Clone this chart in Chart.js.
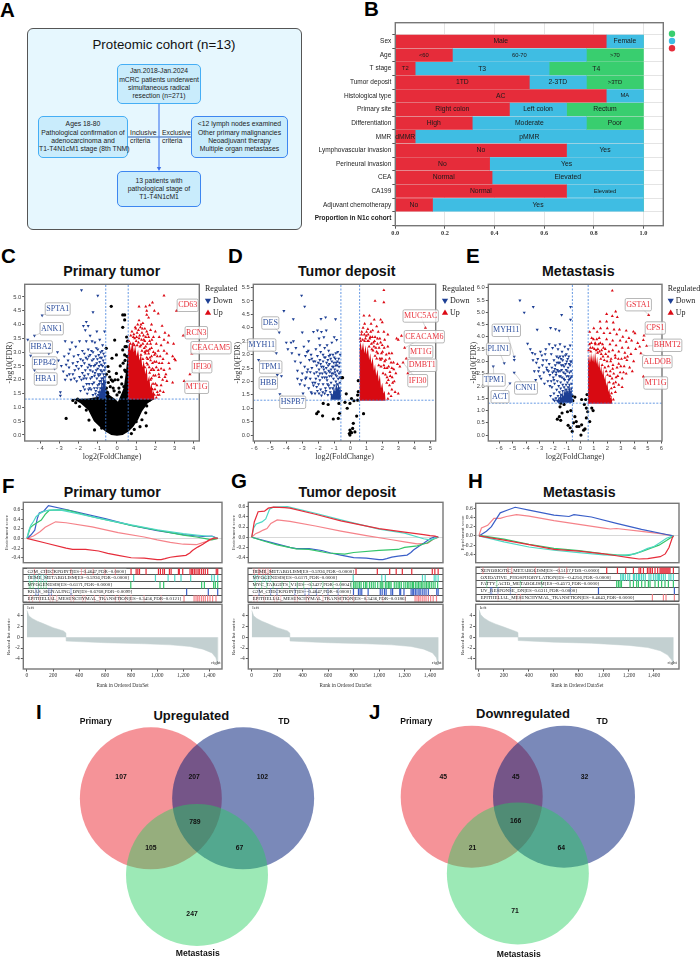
<!DOCTYPE html>
<html>
<head>
<meta charset="utf-8">
<title>Proteomic cohort figure</title>
<script src="https://cdn.jsdelivr.net/npm/chart.js@4"></script>
<style>
  html, body { margin: 0; padding: 0; background: #fff; }
  body { position: relative; width: 700px; height: 958px; overflow: hidden; font-family: "Liberation Sans", Arial, sans-serif; color: #111; }
  .letter { position: absolute; font-size: 20.5px; font-weight: bold; line-height: 1; color: #000; }
  .cohort { position: absolute; left: 27px; top: 28px; width: 273px; height: 200px; background: #e6f7fe; border: 1px solid #555; border-radius: 6px; }
  .step { position: absolute; box-sizing: border-box; background: #c9ecfc; border: 1.2px solid #45aef5; border-radius: 5px; font-size: 6.8px; line-height: 8.3px; text-align: center; white-space: nowrap; display: flex; flex-direction: column; justify-content: center; color: #222; }
  .step.deep { border-color: #3d86f0; }
  .crit { position: absolute; font-size: 6.8px; line-height: 8.2px; color: #222; }
  .heading { position: absolute; transform: translate(-50%, -50%); white-space: nowrap; font-weight: bold; color: #111; }
  canvas { position: absolute; }
</style>
</head>
<body>
<div class="letter" style="left:0;top:0">A</div>
<div class="letter" style="left:364px;top:-1px">B</div>
<div class="letter" style="left:1px;top:246px">C</div>
<div class="letter" style="left:228px;top:246px">D</div>
<div class="letter" style="left:466px;top:246px">E</div>
<div class="letter" style="left:2px;top:476px">F</div>
<div class="letter" style="left:231px;top:471px">G</div>
<div class="letter" style="left:468px;top:471px">H</div>
<div class="letter" style="left:36px;top:702px">I</div>
<div class="letter" style="left:369px;top:702px">J</div>

<div class="cohort"></div>
<div class="heading" style="left:164px;top:44px;font-size:13.3px;font-weight:normal">Proteomic cohort (n=13)</div>
<svg style="position:absolute;left:0;top:0" width="340" height="240">
  <line x1="128" y1="137" x2="191" y2="137" stroke="#2f62b5" stroke-width="1"/>
  <line x1="159" y1="104" x2="159" y2="168" stroke="#4d80f0" stroke-width="1.2"/>
  <path d="M156.8 167 L161.2 167 L159 171 Z" fill="#3d70e8"/>
</svg>
<div class="step" style="left:117px;top:64px;width:84px;height:40px">Jan.2018-Jan.2024<br>mCRC patients underwent<br>simultaneous radical<br>resection (n=271)</div>
<div class="step" style="left:38px;top:116px;width:90px;height:42px">Ages 18-80<br>Pathological confirmation of<br>adenocarcinoma and<br>T1-T4N1cM1 stage (8th TNM)</div>
<div class="step deep" style="left:191px;top:116px;width:97px;height:42px">&lt;12 lymph nodes examined<br>Other primary malignancies<br>Neoadjuvant therapy<br>Multiple organ metastases</div>
<div class="step deep" style="left:117px;top:171px;width:84px;height:36px">13 patients with<br>pathological stage of<br>T1-T4N1cM1</div>
<div class="crit" style="left:130px;top:129px">Inclusive<br>criteria</div>
<div class="crit" style="left:162px;top:129px">Exclusive<br>criteria</div>

<div class="heading" style="left:111.7px;top:271px;font-size:14.2px">Primary tumor</div>
<div class="heading" style="left:346.7px;top:271px;font-size:14.2px">Tumor deposit</div>
<div class="heading" style="left:578.3px;top:270.7px;font-size:14.2px">Metastasis</div>
<div class="heading" style="left:112.3px;top:491.7px;font-size:14.2px">Primary tumor</div>
<div class="heading" style="left:347.3px;top:491.7px;font-size:14.2px">Tumor deposit</div>
<div class="heading" style="left:579.3px;top:491.7px;font-size:14.2px">Metastasis</div>
<div class="heading" style="left:191.3px;top:715.3px;font-size:13px">Upregulated</div>
<div class="heading" style="left:523px;top:712.7px;font-size:13px">Downregulated</div>

<script>
// ---- clinical proportions ----
const clinicalRows = ['Sex', 'Age', 'T stage', 'Tumor deposit', 'Histological type', 'Primary site', 'Differentiation', 'MMR',
  'Lymphovascular invasion', 'Perineural invasion', 'CEA', 'CA199', 'Adjuvant chemotherapy', 'Proportion in N1c cohort'];
const firstShare = [0.85, 0.23, 0.08, 0.54, 0.85, 0.46, 0.31, 0.08, 0.69, 0.38, 0.39, 0.69, 0.15];
const secondShare = [0.15, 0.54, 0.54, 0.23, 0.15, 0.23, 0.46, 0.92, 0.31, 0.62, 0.61, 0.31, 0.85];
const thirdShare = [0, 0.23, 0.38, 0.23, 0, 0.31, 0.23, 0, 0, 0, 0, 0, 0];
const firstNames = ['Male', '<60', 'T2', '1TD', 'AC', 'Right colon', 'High', 'dMMR', 'No', 'No', 'Normal', 'Normal', 'No'];
const secondNames = ['Female', '60-70', 'T3', '2-3TD', 'MA', 'Left colon', 'Moderate', 'pMMR', 'Yes', 'Yes', 'Elevated', 'Elevated', 'Yes'];
const thirdNames = ['', '>70', 'T4', '>3TD', '', 'Rectum', 'Poor', '', '', '', '', '', ''];

// ---- volcano plots: flat x,y lists ----
const foldCut = 0.585;
const fdrCut = 1.3;

const primaryDown = [-3.9,4.33,-4.3,3.6,-4.65,3.45,-4.5,2.87,-4.3,2.35,-3.55,3.3,-3.5,3.15,-3.55,2.95,-3.35,2.75,-3.25,2.4,-3.1,3.0,-3.05,2.7,-2.95,1.55,-2.95,1.42,
  -2.9,2.5,-2.8,2.3,-2.75,2.85,-2.7,3.4,-2.6,2.15,-2.55,2.7,-2.5,2.45,-2.45,3.1,-2.4,2.0,-2.35,3.35,-2.3,2.6,-2.25,2.85,-2.2,2.35,-2.15,3.2,-2.1,1.95,-2.05,2.65,
  -2.0,2.4,-1.95,3.4,-1.95,2.1,-1.9,2.75,-1.9,1.6,-1.85,5.25,-1.85,2.5,-1.8,3.05,-1.8,2.25,-1.75,3.95,-1.75,1.75,-1.7,2.95,-1.7,2.6,-1.65,3.8,-1.65,2.35,-1.6,4.1,
  -1.6,3.4,-1.6,2.05,-1.55,2.75,-1.55,1.5,-1.5,3.95,-1.5,3.1,-1.5,2.2,-1.45,2.55,-1.45,1.85,-1.4,3.6,-1.4,2.9,-1.4,2.35,-1.35,1.65,-1.3,3.4,-1.3,2.7,-1.3,2.1,
  -1.25,4.45,-1.25,3.0,-1.25,1.45,-1.2,2.5,-1.2,1.9,-1.15,3.35,-1.15,2.25,-1.1,2.85,-1.1,1.6,-1.05,3.75,-1.05,2.6,-1.05,2.05,-1.05,1.4,-1.0,5.05,-1.0,3.1,-1.0,2.4,
  -1.0,1.8,-0.95,2.9,-0.95,2.15,-0.95,1.55,-0.9,3.45,-0.9,2.65,-0.9,1.95,-0.9,1.35,-0.85,3.0,-0.85,2.35,-0.85,1.7,-0.8,2.8,-0.8,2.05,-0.8,1.45,-0.75,3.25,-0.75,2.5,
  -0.75,1.85,-0.7,2.95,-0.7,2.2,-0.7,1.55,-0.68,1.35,-0.65,3.75,-0.65,2.6,-0.65,1.75,-0.62,2.1,-0.6,1.45,
  -1.42,1.7,-1.38,2.05,-1.36,2.5,-1.33,3.05,-1.28,1.85,-1.27,2.3,-1.22,2.75,-1.18,1.7,-1.17,2.15,-1.13,2.55,-1.12,1.5,-1.08,2.35,-1.08,3.15,-1.03,1.7,-1.02,2.75,-0.98,2.2,-0.97,1.45,
  -0.93,2.5,-0.92,1.85,-0.88,1.55,-0.88,2.8,-0.87,2.2,-0.83,1.95,-0.82,2.55,-0.78,1.6,-0.78,2.3,-0.77,3.05,-0.73,1.7,-0.72,2.05,-0.72,2.7,-0.68,1.95,-0.67,2.35,-0.66,1.5,-0.63,2.85,
  -0.62,2.45,-0.61,1.9,-0.6,1.6,-1.7,2.15,-1.68,1.65,-1.62,2.8,-1.58,1.85,-1.52,2.45,-1.48,1.65,-1.47,2.85,-1.85,2.0,-1.78,2.7,-1.73,2.05,-2.02,2.9,-2.12,2.5,-2.22,2.05,-2.3,2.2,-2.48,2.2,
  -2.52,2.95,-2.65,2.55,-2.7,2.0];
const primaryDownCore = [-0.95,1.32,-0.9,1.75,-0.85,1.5,-0.8,2.05,-0.75,1.7,-0.7,2.25,-0.65,1.85,-0.6,2.35,-0.585,1.32];
const primaryUp = [2.45,5.05,1.85,4.8,1.7,4.7,1.15,4.65,1.5,4.65,1.55,4.5,1.95,4.5,2.15,4.4,1.55,4.35,1.15,4.15,1.35,4.05,1.65,4.25,1.25,4.0,1.8,4.0,0.95,3.9,1.45,3.85,
  1.75,3.8,2.0,3.75,2.35,3.95,1.05,3.7,1.3,3.7,1.6,3.65,1.9,3.55,2.2,3.55,2.5,3.7,2.7,3.6,2.45,3.45,3.1,4.5,3.45,3.6,3.9,2.95,3.8,2.2,3.5,1.95,0.85,3.55,1.15,3.5,
  1.4,3.45,1.7,3.4,2.05,3.3,2.3,3.25,2.65,3.35,2.95,3.3,1.0,3.4,1.5,3.2,1.8,3.15,2.15,3.05,2.45,3.05,1.65,2.95,1.95,2.9,2.25,2.85,2.6,2.95,2.9,2.85,1.75,2.7,2.05,2.65,
  2.35,2.6,2.7,2.6,3.0,2.75,3.05,2.7,1.85,2.4,2.15,2.35,2.45,2.35,2.75,2.4,1.9,2.15,2.2,2.1,2.5,2.1,2.9,1.9,2.0,1.85,2.3,1.8,2.6,1.95,1.85,1.65,2.1,1.55,2.05,1.35,
  2.2,1.45,1.95,1.45,0.7,3.3,0.9,3.25,1.25,3.25,1.55,2.8,1.45,3.0,1.6,2.55,1.7,2.25,1.75,2.0,
  0.62,3.4,0.72,3.6,0.78,3.75,0.85,3.3,0.88,3.65,0.92,3.5,0.98,3.85,1.02,3.55,1.05,3.25,1.08,4.0,1.12,3.35,1.12,3.8,1.18,3.6,1.2,3.2,1.22,3.9,1.28,3.45,1.3,3.05,1.32,3.85,1.35,3.3,1.38,3.6,
  1.42,3.15,1.45,3.4,1.48,2.95,1.5,3.55,1.52,3.05,1.55,3.75,1.55,2.6,1.58,3.3,1.6,2.75,1.62,3.05,1.65,3.55,1.68,2.45,1.7,3.1,1.72,2.8,1.75,3.3,1.78,2.35,1.8,2.85,1.8,2.05,1.82,3.45,1.85,2.6,
  1.88,1.85,1.9,3.0,1.92,2.35,1.95,2.65,1.98,1.65,2.0,2.95,2.0,2.15,2.05,2.45,2.08,1.8,2.1,2.85,2.12,1.45,2.18,2.2,2.2,2.6,2.25,1.6,2.3,2.4,2.38,2.0,2.4,2.75,2.42,1.55,2.55,2.2,1.35,2.75,1.25,2.9,1.45,2.45];
const primaryBackground = [-0.3,4.66,0.3,4.35,0.4,4.35,0.4,4.17,0.3,3.9,-0.12,3.44,-0.26,2.78,-0.56,3.14,-0.03,2.9,0.3,3.08,0.4,2.9,0.49,3.2,-0.47,2.48,-0.38,2.1,-0.03,2.23,
  0.23,2.1,0.4,2.35,-2.15,1.17,-1.95,1.03,-1.6,0.9,-2.65,0.6,-1.46,0.54,-1.17,0.18,1.53,0.33,1.0,0.48,1.36,1.03,1.7,1.27,-0.9,1.09,-0.55,2.2,-0.45,1.9,-0.2,1.7,0.1,1.7,-2.3,1.25,
  -0.5,1.55,-0.42,2.3,-0.35,1.75,-0.3,2.0,-0.22,1.95,-0.15,1.6,-0.1,2.0,0,1.45,0.05,2.0,0.12,1.55,0.17,2.5,0.25,1.85,0.32,2.6,0.36,1.75,0.42,2.7,0.45,2.3,0.52,2.85,0.55,3.4,0.5,3.55,0.42,3.2,
  -0.55,1.7,-0.48,1.5,-2.05,1.3,-1.8,1.25,-1.65,1.1,-1.4,1.05,1.55,1.05,1.5,0.8,1.2,0.3,1.3,0.55,-1.05,0.65,-1.3,0.8,-0.8,0.25,0.9,0.2,0.75,0.05];
const primaryCoreTop = [-2.3,1.3,-1.5,1.32,-0.8,1.4,-0.58,1.7,-0.5,1.5,-0.3,1.4,-0.1,1.3,0.05,1.2,0.2,1.45,0.35,1.7,0.45,2.2,0.58,3.0,0.6,1.3,1.95,1.3];
const primaryCoreBottom = [-2.3,1.3,-1.9,1.15,-1.5,0.9,-1.2,0.5,-0.9,0.3,-0.6,0.12,-0.3,0.0,0,-0.03,0.3,0.0,0.6,0.12,0.85,0.3,1.1,0.55,1.3,0.85,1.6,1.15,1.95,1.3];
const primaryUpCore = [0.57,3.1,0.65,3.35,0.72,3.05,0.8,3.4,0.88,3.0,0.95,3.25,1.02,2.85,1.1,3.1,1.17,2.7,1.25,2.95,1.32,2.45,1.4,2.7,1.47,2.2,1.55,2.45,1.6,1.95,1.68,2.15,1.74,1.7,1.8,1.9,1.86,1.5,1.92,1.6,1.96,1.28];

const depositDown = [-3.04,5.2,-2.85,4.79,-4.15,4.63,-3.56,4.32,-4.44,3.83,-1.83,4.33,-1.54,4.39,-0.92,4.32,-3,3.83,-4.62,3.05,-5.73,2.8,-4.56,2.24,-4.4,1.53,-4.3,2.2,
  -4.0,3.45,-3.9,3.2,-3.7,3.45,-3.65,3.05,-3.55,3.5,-3.45,2.75,-3.4,3.25,-3.3,2.1,-3.3,2.4,-3.2,3.0,-3.15,1.9,-3.1,2.7,-3.05,2.05,-3.0,2.3,-2.95,1.55,-2.9,3.3,-2.85,2.55,-2.85,1.85,
  -2.8,2.95,-2.75,2.15,-2.7,3.1,-2.65,2.45,-2.6,1.75,-2.6,3.5,-2.55,2.8,-2.5,2.1,-2.45,1.6,-2.45,3.0,-2.4,2.5,-2.35,1.95,-2.3,3.85,-2.3,2.75,-2.25,2.3,-2.2,1.55,-2.15,3.2,-2.1,2.6,
  -2.1,1.8,-2.05,3.9,-2.05,2.95,-2.0,2.2,-1.95,3.6,-1.95,2.45,-1.95,1.55,-1.9,3.35,-1.9,2.8,-1.9,2.05,-1.85,3.1,-1.85,1.7,-1.8,3.85,-1.8,2.55,-1.8,1.48,-1.75,2.3,-1.7,3.0,-1.7,2.75,
  -1.7,1.9,-1.65,3.65,-1.65,2.45,-1.6,3.25,-1.6,2.15,-1.6,1.55,-1.55,2.9,-1.55,1.75,-1.5,3.9,-1.5,2.5,-1.5,2.3,-1.45,3.35,-1.45,2.05,-1.4,2.8,-1.4,1.5,-1.35,3.15,-1.35,2.4,-1.35,1.85,
  -1.3,2.65,-1.3,2.2,-1.25,3.0,-1.25,1.6,-1.2,2.45,-1.2,1.95,-1.15,3.45,-1.15,2.75,-1.15,2.3,-1.1,1.75,-1.1,1.45,-1.05,2.55,-1.05,2.1,-1.0,3.65,-1.0,2.9,-1.0,1.85,-0.95,2.35,-0.95,1.6,
  -0.95,1.4,-0.9,3.05,-0.9,2.6,-0.9,2.0,-0.85,3.55,-0.85,2.2,-0.85,1.7,-0.85,1.5,-0.8,2.75,-0.8,2.4,-0.8,1.9,-0.75,2.1,-0.75,1.55,-0.75,1.38,-0.7,2.55,-0.7,2.3,-0.7,1.75,-0.65,2.15,
  -0.65,1.95,-0.65,1.45,-0.62,2.35,-0.6,1.65,
  -1.9,2.3,-1.85,2.65,-1.75,2.15,-1.72,1.6,-1.68,2.55,-1.62,2.9,-1.58,2.35,-1.52,1.65,-1.48,2.7,-1.47,2.15,-1.42,1.9,-1.38,2.6,-1.33,2.95,-1.28,2.35,-1.27,1.75,-1.22,2.85,-1.18,2.2,-1.17,1.5,
  -1.12,2.55,-1.08,3.0,-1.07,2.3,-1.03,2.7,-0.97,2.45,-0.93,2.85,-0.92,2.25,-0.88,2.7,-0.82,2.6,-0.78,3.1,-0.72,2.85,-0.68,2.7,-0.63,3.0,-2.15,2.1,-2.2,2.75,-2.3,1.85,-2.4,2.85,-2.5,2.35,
  -2.62,3.15,-2.7,2.35,-2.8,2.1,-2.05,1.65,-2.0,2.7,-1.98,1.9,-2.4,1.55,-2.2,1.95,-2.1,2.35];
const depositDownCore = [-1.25,1.32,-1.18,1.6,-1.1,1.45,-1.03,1.85,-0.95,1.6,-0.88,2.0,-0.8,1.7,-0.73,1.95,-0.66,1.65,-0.6,1.85,-0.585,1.32];
const depositUp = [2.1,5.4,1.55,5.0,2.1,4.95,4.7,4.0,3.2,3.7,2.9,3.6,3.0,3.55,3.4,3.25,3.5,2.85,3.1,2.55,3.6,2.3,3.3,2.7,0.85,4.45,1.2,4.45,1.5,4.3,1.9,4.3,0.9,4.15,1.3,4.15,1.65,4.05,2.0,4.2,
  0.8,4.0,1.1,3.95,1.4,3.9,1.75,3.85,2.1,3.85,2.35,3.75,0.7,3.75,1.0,3.7,1.25,3.65,1.55,3.65,1.85,3.6,2.15,3.55,0.65,3.5,0.9,3.5,1.15,3.5,1.45,3.45,1.7,3.4,2.0,3.35,2.35,3.3,2.6,3.05,
  1.35,3.2,1.65,3.1,1.95,3.05,2.25,3.0,1.9,2.8,2.15,2.75,2.45,2.85,2.7,2.7,2.95,2.65,2.4,2.55,2.15,2.5,2.6,2.5,2.85,2.3,2.5,2.2,2.3,2.15,2.65,1.95,2.45,1.85,2.8,1.6,2.4,1.55,2.35,1.35,
  2.55,1.45,3.0,1.55,
  0.62,3.6,0.72,3.85,0.78,3.55,0.88,3.75,0.95,3.6,1.02,3.85,1.08,3.5,1.12,3.75,1.18,3.3,1.22,3.6,1.28,3.85,1.32,3.4,1.38,3.65,1.42,3.15,1.48,3.3,1.52,3.5,1.55,2.95,1.6,3.25,1.65,2.85,1.7,3.6,
  1.72,3.05,1.78,2.6,1.8,3.25,1.85,2.85,1.9,3.45,1.92,2.55,1.98,2.85,2.02,3.1,2.05,2.3,2.1,2.6,2.12,3.25,2.2,2.25,2.22,2.8,2.28,1.95,2.3,2.5,2.38,2.05,2.42,3.05,2.48,2.35,2.55,2.7,2.6,1.7,
  2.62,2.15,2.72,2.45,2.75,2.0];
const depositBackground = [-0.54,2.14,-0.48,2.14,0.5,2.03,0.5,1.62,0.46,1.49,-0.25,1.54,0.46,1.3,0.08,1.36,0.23,1.28,-0.33,1.22,-1.69,1.18,-1.38,1.14,-0.71,1.18,-0.02,1.18,-0.67,0.81,-0.75,0.62,
  -1.06,0.6,-0.19,1.0,-2.0,0.87,-2.1,0.8,-1.73,0.72,0.4,0.71,0.83,0.8,0.19,0.44,-0.02,0.19,-0.06,0.06,0.02,0.12,0.15,0.25,0.29,0.12,-0.02,0,0.08,0.09];
const depositUpCore = [0.57,3.2,0.65,3.5,0.72,3.15,0.8,3.45,0.88,3.05,0.95,3.35,1.02,3.0,1.1,3.3,1.18,2.8,1.25,3.05,1.32,2.65,1.4,2.9,1.48,2.4,1.55,2.65,1.62,2.2,1.7,2.45,1.78,2.0,1.85,2.25,1.92,1.75,2.0,1.95,2.08,1.55,2.15,1.65,2.22,1.28];

const metastasisDown = [-4.47,5.48,-4.15,4.99,-3.48,5.22,-1.38,4.89,-0.72,5.22,-0.72,4.7,-3.19,4.29,-2.2,4.36,-1.83,4.31,-1.56,4.25,-6.44,2.8,-5.63,2.93,-5.21,2.11,-4.89,3.19,-4.89,3.06,-4.89,2.54,
  -3.9,3.72,-3.7,3.5,-3.55,3.35,-3.35,3.3,-3.5,3.05,-3.4,2.6,-3.25,2.95,-3.15,3.1,-3.05,2.75,-3.0,2.4,-2.95,3.4,-2.85,3.25,-2.8,2.85,-2.7,2.55,-2.65,2.1,-2.55,3.5,-2.5,3.05,-2.45,2.65,
  -2.4,2.2,-2.3,3.7,-2.3,2.9,-2.25,2.45,-2.2,1.6,-2.15,3.3,-2.1,2.75,-2.1,1.95,-2.05,3.55,-2.0,2.35,-1.95,3.05,-1.95,2.6,-1.95,1.7,-1.9,2.1,-1.85,3.65,-1.85,2.85,-1.8,2.45,-1.8,1.5,
  -1.75,3.2,-1.75,1.85,-1.7,2.65,-1.7,2.2,-1.65,3.5,-1.65,1.6,-1.6,2.95,-1.6,2.0,-1.55,2.4,-1.55,1.75,-1.5,3.7,-1.5,3.2,-1.5,2.6,-1.5,1.5,-1.45,2.15,-1.45,1.9,-1.4,2.85,-1.4,1.65,
  -1.35,3.4,-1.35,2.35,-1.35,1.42,-1.3,3.05,-1.3,2.05,-1.3,1.8,-1.25,2.55,-1.25,1.55,-1.2,2.8,-1.2,1.95,-1.15,3.6,-1.15,2.25,-1.15,1.7,-1.1,3.25,-1.1,1.45,-1.05,2.65,-1.05,2.05,-1.05,1.85,
  -1.0,3.0,-1.0,2.4,-1.0,1.6,-0.95,2.15,-0.95,1.75,-0.95,1.38,-0.9,3.5,-0.9,2.75,-0.9,1.95,-0.9,1.55,-0.85,3.2,-0.85,2.25,-0.85,1.7,-0.85,1.45,-0.8,2.55,-0.8,2.05,-0.8,1.85,-0.75,3.65,
  -0.75,2.85,-0.75,1.6,-0.75,1.35,-0.7,2.35,-0.7,1.75,-0.7,1.5,-0.65,3.0,-0.65,2.1,-0.65,1.9,-0.65,1.65,-0.62,1.42,-2.0,1.45,-1.9,1.4,-1.7,1.4,-1.6,1.35,-1.25,1.35,
  -2.25,2.0,-2.15,2.2,-2.05,2.55,-1.95,2.25,-1.88,2.7,-1.78,2.55,-1.72,2.95,-1.62,2.6,-1.62,3.15,-1.52,2.95,-1.47,2.4,-1.42,3.1,-1.38,2.65,-1.28,2.85,-1.27,3.2,-1.22,2.3,-1.12,2.5,-1.08,2.9,
  -1.03,3.3,-0.97,2.6,-0.93,3.1,-0.88,2.4,-0.82,2.9,-0.78,2.3,-0.72,3.0,-0.68,2.6,-0.63,2.4,-2.35,2.6,-2.5,2.75,-2.6,3.3,-2.75,3.05,-2.9,2.3,-3.1,2.6,-3.3,2.25];
const metastasisDownCore = [-1.7,1.32,-1.62,1.55,-1.54,1.42,-1.46,1.75,-1.38,1.5,-1.3,1.8,-1.22,1.55,-1.14,2.0,-1.06,1.7,-0.98,1.95,-0.9,1.65,-0.82,2.1,-0.74,1.75,-0.66,2.0,-0.59,1.32];
const metastasisUp = [2.37,5.88,5.06,4.89,2.62,5.03,1.95,4.93,2.37,4.85,2.74,4.8,1.95,4.62,2.44,4.58,1.46,4.62,4.72,4.05,4.67,3.87,4.91,3.63,4.49,3.33,4.67,2.38,3.93,4.21,4.05,4.14,1.0,4.35,1.5,4.35,
  2.0,4.35,2.5,4.3,2.9,4.3,3.4,4.25,0.7,4.2,1.25,4.2,1.75,4.15,2.2,4.15,2.7,4.1,3.15,4.0,3.6,3.95,0.85,3.95,1.4,3.95,1.95,3.9,2.4,3.85,2.95,3.85,3.4,3.8,3.8,3.85,4.25,3.75,1.1,3.75,1.65,3.7,
  2.2,3.7,2.65,3.65,3.1,3.55,3.55,3.55,4.1,3.5,4.4,3.6,0.75,3.55,1.3,3.5,1.85,3.5,2.4,3.45,2.85,3.4,3.3,3.35,3.75,3.3,1.55,3.3,2.05,3.2,2.6,3.15,3.05,3.1,3.45,3.05,3.95,3.0,2.25,3.0,2.85,2.9,
  3.25,2.8,3.65,2.75,2.4,2.7,2.95,2.55,3.4,2.5,3.85,2.6,2.2,2.4,2.65,2.35,3.1,2.3,2.45,2.1,2.85,2.05,3.1,1.95,2.3,1.9,2.6,1.75,2.2,1.6,2.45,1.45,1.9,1.35,
  0.62,3.45,0.68,3.7,0.78,3.4,0.82,3.75,0.92,3.55,0.98,3.9,1.05,3.5,1.12,3.7,1.18,3.45,1.22,3.9,1.28,3.35,1.35,3.7,1.42,3.4,1.48,3.75,1.52,3.1,1.58,3.45,1.62,2.85,1.68,3.2,1.72,3.55,1.78,3.05,
  1.82,2.75,1.88,3.3,1.92,2.6,1.98,3.0,2.02,2.45,2.08,2.8,2.12,3.4,2.15,2.15,2.22,2.6,2.28,3.1,2.32,1.7,2.35,2.3,2.42,2.85,2.48,2.5,2.52,1.95,2.58,3.25,2.62,2.15,2.72,2.75,2.78,2.4,2.82,3.1,
  3.0,2.8,3.2,2.55,3.3,3.15,3.5,3.2];
const metastasisBackground = [-1.45,1.3,-1.5,1.15,-1.2,1.25,-1.35,0.9,-1.55,0.75,-1.7,0.65,-1.45,0.6,-0.7,1.0,-0.95,0.95,-0.4,1.55,-0.6,1.6,-0.55,1.4,0.4,1.45,0.1,1.45,0.3,1.25,0.5,1.65,0.45,1.1,0.55,0.95,
  0.85,1.1,0.95,1.0,0.7,0.55,0.45,0.7,-0.4,0.75,-0.3,0.55,-0.5,0.5,-0.9,0.4,-0.75,0.3,-0.6,0.15,0.1,0.42,0.35,0.25,0.25,0.2,0.05,0.0,-0.1,0.35,-0.25,0.35];
const metastasisUpCore = [0.57,3.0,0.65,3.3,0.72,2.95,0.8,3.35,0.88,3.0,0.95,3.3,1.02,2.95,1.1,3.4,1.18,2.9,1.25,3.2,1.32,2.75,1.4,3.05,1.48,2.6,1.55,2.85,1.62,2.45,1.7,2.7,1.78,2.25,1.85,2.45,1.92,2.0,2.0,2.2,2.08,1.75,2.15,1.9,2.22,1.5,2.3,1.6,2.38,1.28];

const primaryGenes = ['SPTA1', 'ANK1', 'HBA2', 'EPB42', 'HBA1', 'CD63', 'RCN3', 'CEACAM5', 'IFI30', 'MT1G'];
const primaryGeneValues = [-3.9,4.33,-4.3,3.6,-4.65,3.45,-4.5,2.87,-4.3,2.35,3.1,4.5,3.45,3.6,3.9,2.95,3.8,2.2,3.5,1.95];
const depositGenes = ['DES', 'MYH11', 'TPM1', 'HBB', 'HSPB7', 'MUC5AC', 'CEACAM6', 'MT1G', 'DMBT1', 'IFI30'];
const depositGeneValues = [-4.44,3.83,-4.62,3.05,-5.73,2.8,-4.56,2.24,-4.4,1.53,4.7,4.0,3.4,3.25,3.5,2.85,3.6,2.3,3.3,2.7];
const metastasisGenes = ['GSTA1', 'CPS1', 'BHMT2', 'ALDOB', 'MT1G', 'MYH11', 'PLIN1', 'TPM1', 'ACT', 'CNN1'];
const metastasisGeneValues = [5.06,4.89,4.72,4.05,4.91,3.63,4.49,3.33,4.67,2.38,-4.89,3.19,-5.63,2.93,-6.44,2.8,-5.21,2.11,-4.89,2.54];

// ---- enrichment curves: flat rank,score lists ----
const g2mCurve = [0,0,150,-0.1,300,-0.2,350,-0.225,450,-0.225,550,-0.26,620,-0.31,700,-0.35,800,-0.4,900,-0.41,1000,-0.44,1030,-0.44,1060,-0.42,1100,-0.39,1150,-0.37,1220,-0.35,1250,-0.3,1270,-0.25,1310,-0.18,1350,-0.12,1400,-0.03,1440,0.01,1465,0];
const hemeCurveF = [0,0,15,0.17,30,0.27,50,0.35,70,0.45,100,0.52,130,0.56,170,0.585,250,0.59,400,0.51,600,0.39,800,0.28,1000,0.18,1200,0.1,1300,0.07,1380,0.05,1420,0.04,1465,0];
const myogCurveF = [0,0,25,0.22,50,0.28,80,0.33,110,0.38,140,0.5,170,0.58,230,0.59,310,0.585,500,0.45,800,0.27,1000,0.17,1200,0.07,1300,0.03,1380,-0.01,1420,-0.03,1465,0];
const krasCurve = [0,0,30,0.07,60,0.17,80,0.42,95,0.53,130,0.57,165,0.68,300,0.6,600,0.41,800,0.27,1000,0.16,1200,0.08,1350,0.04,1420,0.05,1465,0];
const emtCurveF = [0,0,50,0.05,100,0.14,140,0.23,180,0.29,220,0.345,300,0.325,500,0.24,700,0.12,900,0.03,1000,-0.03,1100,-0.08,1200,-0.12,1300,-0.13,1380,-0.06,1420,-0.02,1465,0];
const hemeCurveG = [0,0,20,0.3,50,0.5,100,0.51,130,0.57,170,0.59,260,0.58,300,0.57,500,0.45,700,0.32,1000,0.17,1200,0.1,1350,0.05,1400,0.03,1440,0.02,1465,0];
const myogCurveG = [0,0,15,0.18,35,0.26,80,0.3,110,0.36,140,0.55,170,0.59,280,0.6,500,0.47,700,0.34,1000,0.16,1200,0.08,1350,-0.03,1400,-0.05,1465,0];
const mycCurve = [0,0,100,-0.08,200,-0.15,350,-0.23,450,-0.24,600,-0.31,730,-0.33,800,-0.3,1000,-0.26,1150,-0.24,1200,-0.2,1300,-0.17,1380,-0.11,1430,-0.03,1465,0];
const emtCurveG = [0,0,30,0.07,60,0.1,90,0.14,120,0.17,150,0.27,200,0.34,300,0.31,500,0.22,700,0.12,900,0.03,1100,-0.05,1200,-0.09,1300,-0.13,1380,-0.12,1420,-0.05,1465,0];
const xenoCurve = [0,0,200,-0.09,400,-0.19,600,-0.29,800,-0.33,1000,-0.39,1100,-0.43,1200,-0.47,1280,-0.5,1350,-0.49,1450,-0.45,1490,-0.39,1520,-0.25,1545,-0.05,1555,0];
const oxphosCurve = [0,0,200,-0.13,400,-0.24,600,-0.31,800,-0.36,1000,-0.41,1150,-0.42,1250,-0.39,1350,-0.27,1400,-0.23,1450,-0.14,1500,-0.05,1555,0];
const fattyCurve = [0,0.01,200,-0.07,400,-0.18,600,-0.27,800,-0.32,1000,-0.39,1100,-0.41,1200,-0.42,1300,-0.34,1380,-0.26,1440,-0.2,1500,-0.1,1555,0];
const uvCurve = [0,0,60,0.1,100,0.2,130,0.33,170,0.5,230,0.56,290,0.62,400,0.56,600,0.45,720,0.42,760,0.46,900,0.41,1100,0.27,1300,0.14,1500,0.03,1555,0];
const emtCurveH = [0,0.01,20,0.17,70,0.23,120,0.38,170,0.38,220,0.42,300,0.46,400,0.43,600,0.33,800,0.25,1000,0.17,1050,0.15,1100,0.16,1300,0.1,1450,0.05,1555,0];

// gene set hit ranks
const g2mHits = [60,150,200,340,420,450,510,600,680,800,839,852,865,915,1010,1025,1043,1056,1094,1107,1163,1170,1196,1252,1265,1272,1285,1298,1313,1323,1339,1354,1369,1387,1453,1464];
const hemeHits = [20,55,65,90,110,130,150,820,987,1084,1135,1183,1257,1418,1438,1464];
const myogHits = [20,30,50,90,110,130,150,798,1022,1050,1341,1362,1433,1446,1464];
const krasHits = [70,90,170,190,340,1226,1392,1464];
const emtHits = [20,45,100,180,200,230,340,360,430,450,520,560,600,680,710,760,800,900,1030,1206,1283,1298,1311,1323,1339,1354,1369,1387,1405,1425,1451];
const mycHits = [30,80,120,170,240,300,360,410,470,560,640,700,780,800,812,820,835,848,860,880,895,905,925,940,955,970,990,1010,1022,1030,1050,1062,1075,1085,1095,1120,1135,1150,1162,1175,1195,1210,1225,1235,1250,1262,1270,1285,1298,1310,1322,1335,1345,1360,1372,1385,1395,1410,1425,1440,1460];
const xenoHits = [30,230,260,450,640,700,1021,1107,1173,1235,1280,1293,1315,1347,1360,1373,1387,1408,1429,1448,1456,1464,1472,1480,1488,1496,1504,1512,1520,1528,1555];
const oxphosHits = [1133,1145,1155,1170,1190,1205,1235,1245,1260,1275,1285,1300,1315,1330,1360,1375,1395,1410,1425,1435,1445,1460,1475,1490,1520,1535,1555];
const fattyHits = [60,140,330,500,1101,1115,1128,1139,1208,1235,1261,1275,1301,1328,1355,1368,1408,1435,1461,1488,1515,1555];
const uvHits = [90,100,150,250,730,955,1563];
const emtHitsH = [150,300,330,1387,1475,1496,1563];

const setNamesF = ['G2M_CHECKPOINT[ES=-0.4647,FDR=0.0000]', 'HEME_METABOLISM[ES=0.5936,FDR=0.0000]', 'MYOGENESIS[ES=0.6171,FDR=0.0000]', 'KRAS_SIGNALING_DN[ES=0.6768,FDR=0.0099]', 'EPITHELIAL_MESENCHYMAL_TRANSITION[ES=0.3456,FDR=0.0121]'];
const setNamesG = ['HEME_METABOLISM[ES=0.5936,FDR=0.0000]', 'MYOGENESIS[ES=0.6171,FDR=0.0000]', 'MYC_TARGETS_V1[ES=-0.3427,FDR=0.0004]', 'G2M_CHECKPOINT[ES=-0.4647,FDR=0.0000]', 'EPITHELIAL_MESENCHYMAL_TRANSITION[ES=0.3436,FDR=0.0186]'];
const setNamesH = ['XENOBIOTIC_METABOLISM[ES=-0.5117,FDR=0.0000]', 'OXIDATIVE_PHOSPHORYLATION[ES=-0.4256,FDR=0.0000]', 'FATTY_ACID_METABOLISM[ES=-0.4573,FDR=0.0000]', 'UV_RESPONSE_DN[ES=0.6311,FDR=0.0000]', 'EPITHELIAL_MESENCHYMAL_TRANSITION[ES=0.4643,FDR=0.0000]'];

// ranked metric, flat rank,value
const metricShort = [0,5.0,15,4.0,40,3.5,80,3.0,120,2.6,160,2.2,200,1.8,240,1.5,280,1.2,299,0.8,301,-0.7,600,-1.0,900,-1.2,1100,-1.4,1250,-1.7,1350,-2.2,1420,-2.9,1450,-3.8,1465,-5.2,1465,0];
const metricLong = [0,5.2,15,4.2,40,3.6,80,3.0,130,2.5,200,1.9,300,1.05,312,0.9,314,-0.6,600,-0.9,900,-1.1,1200,-1.5,1350,-1.9,1450,-2.5,1510,-3.3,1540,-4.2,1555,-5.0,1555,0];

// ---- overlap counts ----
const upCounts = [107, 207, 102, 789, 105, 67, 247];
const downCounts = [45, 45, 32, 166, 21, 64, 71];
const vennSets = ['Primary', 'TD', 'Metastasis'];

const SERIF = '"Liberation Serif", serif';
const SANS = '"Liberation Sans", Arial, sans-serif';
const RED = '#e62c3a', SKY = '#3fbde3', GREEN = '#39ce6f';
const TEAL = '#4fd8c4', GRASS = '#34c56a', ROYAL = '#3a5fc8', PINK = '#f5838a';

const pairs = list => {
  const out = [];
  for (let i = 0; i < list.length; i += 2) out.push({ x: list[i], y: list[i + 1] });
  return out;
};

// one absolutely placed canvas; box is the plot frame in page coordinates
function addPlot(pos, box, datasets, xAxis, yAxis, drawExtras, frameColor = '#777', frameWidth = 1.4) {
  const canvas = document.createElement('canvas');
  canvas.width = pos.w;
  canvas.height = pos.h;
  canvas.style.left = pos.x + 'px';
  canvas.style.top = pos.y + 'px';
  document.body.appendChild(canvas);
  const tickStyle = { drawOnChartArea: false, drawTicks: true, tickLength: 2.5, tickColor: '#555' };
  return new Chart(canvas, {
    type: 'scatter',
    data: { datasets },
    options: {
      responsive: false,
      animation: false,
      layout: { autoPadding: false, padding: { top: box.t - pos.y, right: pos.x + pos.w - box.r, left: 0, bottom: 0 } },
      plugins: { legend: { display: false }, tooltip: { enabled: false } },
      scales: {
        x: { type: 'linear', border: { display: false }, grid: tickStyle, ...xAxis, afterFit: s => { s.height = pos.y + pos.h - box.b; } },
        y: { type: 'linear', border: { display: false }, grid: tickStyle, ...yAxis, afterFit: s => { s.width = box.l - pos.x; } }
      }
    },
    plugins: [{
      id: 'plotFrame',
      afterDatasetsDraw(chart) {
        const a = chart.chartArea, ctx = chart.ctx;
        ctx.save();
        ctx.strokeStyle = frameColor;
        ctx.lineWidth = frameWidth;
        ctx.strokeRect(a.left, a.top, a.right - a.left, a.bottom - a.top);
        ctx.restore();
      },
      afterDraw(chart) {
        if (drawExtras) {
          const ctx = chart.ctx;
          ctx.save();
          ctx.translate(-pos.x, -pos.y);
          drawExtras(chart, ctx);
          ctx.restore();
        }
      }
    }]
  });
}

// ---- panel B ----
(function drawClinicalBars() {
  const canvas = document.createElement('canvas');
  const pos = { x: 310, y: 10, w: 390, h: 235 };
  const box = { l: 395.3, t: 22.7, r: 663.3, b: 225.7 };
  canvas.width = pos.w;
  canvas.height = pos.h;
  canvas.style.left = pos.x + 'px';
  canvas.style.top = pos.y + 'px';
  document.body.appendChild(canvas);
  const rowsOf = share => share.map((v, i) => ({ x: v, y: i }));
  const series = [
    { share: firstShare, names: firstNames, color: RED },
    { share: secondShare, names: secondNames, color: SKY },
    { share: thirdShare, names: thirdNames, color: GREEN }
  ];
  new Chart(canvas, {
    type: 'bar',
    data: {
      datasets: series.map(s => ({
        data: rowsOf(s.share),
        backgroundColor: s.color,
        borderWidth: 0,
        barThickness: 12.6
      }))
    },
    options: {
      indexAxis: 'y',
      responsive: false,
      animation: false,
      layout: { autoPadding: false, padding: { top: box.t - pos.y, right: pos.x + pos.w - box.r, left: 0, bottom: 0 } },
      plugins: { legend: { display: false }, tooltip: { enabled: false } },
      scales: {
        x: {
          type: 'linear', stacked: true, min: 0, max: 1.08,
          afterBuildTicks: s => { s.ticks = [0, 0.2, 0.4, 0.6, 0.8, 1].map(value => ({ value })); },
          ticks: { padding: 1, maxRotation: 0, font: { family: SERIF, size: 6.3, weight: 'bold' }, color: '#333', callback: v => v.toFixed(1) },
          border: { display: false },
          grid: { color: '#e4e4e4', tickColor: '#555', tickLength: 3 },
          afterFit: s => { s.height = pos.y + pos.h - box.b; }
        },
        y: {
          type: 'linear', stacked: true, reverse: true, min: -0.84, max: 13,
          afterBuildTicks: s => { s.ticks = clinicalRows.map((_, value) => ({ value })); },
          ticks: {
            padding: 1, autoSkip: false, color: '#222',
            font: c => ({ family: SANS, size: 6.5, weight: c.index === 13 ? 'bold' : 'normal' }),
            callback: v => clinicalRows[v]
          },
          border: { display: false },
          grid: { color: '#e4e4e4', tickColor: '#555', tickLength: 3 },
          afterFit: s => { s.width = box.l - pos.x; }
        }
      }
    },
    plugins: [{
      id: 'segmentLabels',
      afterDatasetsDraw(chart) {
        const ctx = chart.ctx, a = chart.chartArea, xs = chart.scales.x, ys = chart.scales.y;
        ctx.save();
        ctx.strokeStyle = '#777';
        ctx.lineWidth = 1.4;
        ctx.strokeRect(a.left, a.top, a.right - a.left, a.bottom - a.top);
        ctx.textAlign = 'center';
        ctx.textBaseline = 'middle';
        ctx.fillStyle = '#1a1a1a';
        for (let row = 0; row < firstShare.length; row++) {
          let from = 0;
          series.forEach(s => {
            const mid = from + s.share[row] / 2;
            from += s.share[row];
            if (!s.names[row]) return;
            const small = row === 1 || s.names[row] === '>3TD' || (row === 11 && s.names[row] === 'Elevated') || s.names[row] === 'T2' || s.names[row] === 'MA';
            ctx.font = (small ? '5.8px ' : '6.8px ') + SANS;
            ctx.fillText(s.names[row], xs.getPixelForValue(mid), ys.getPixelForValue(row));
          });
        }
        // colour key, no captions
        [GREEN, SKY, RED].forEach((c, i) => {
          ctx.fillStyle = c;
          ctx.beginPath();
          ctx.arc(672 - pos.x, 33.7 + i * 7.3 - pos.y, 3.2, 0, Math.PI * 2);
          ctx.fill();
        });
        ctx.restore();
      }
    }]
  });
})();

// ---- panels C, D, E ----
function addVolcano(cfg) {
  const axisLabelFont = { family: SANS, size: 5.8 };
  const datasets = [
    ...[-foldCut, foldCut].map(c => ({
      data: [{ x: c, y: cfg.yMin }, { x: c, y: cfg.yMax }],
      showLine: true, borderColor: '#3f7fdc', borderWidth: 0.8, borderDash: [2, 1.5], pointRadius: 0
    })),
    {
      data: [{ x: cfg.xMin, y: fdrCut }, { x: cfg.xMax, y: fdrCut }],
      showLine: true, borderColor: '#3f7fdc', borderWidth: 0.8, borderDash: [2, 1.5], pointRadius: 0
    },
    { data: pairs(cfg.up), backgroundColor: '#dc0a14', borderWidth: 0, pointStyle: 'triangle', pointRadius: 1.8 },
    { data: pairs(cfg.upCore), showLine: true, borderWidth: 0, pointRadius: 0, backgroundColor: '#d80a12', fill: { value: fdrCut - 0.02 } },
    { data: pairs(cfg.down), backgroundColor: '#1d3f94', borderWidth: 0, pointStyle: 'triangle', rotation: 180, pointRadius: 1.8 },
    { data: pairs(cfg.downCore), showLine: true, borderWidth: 0, pointRadius: 0, backgroundColor: '#1d3f94', fill: { value: fdrCut + 0.02 } },
    { data: pairs(cfg.background), backgroundColor: '#000', borderWidth: 0, pointRadius: 1.6 }
  ];
  if (cfg.coreTop) {
    datasets.push(
      { data: pairs(cfg.coreTop), showLine: true, borderWidth: 0, pointRadius: 0, backgroundColor: '#000', fill: '+1' },
      { data: pairs(cfg.coreBottom), showLine: true, borderWidth: 0, pointRadius: 0 }
    );
  }
  addPlot(cfg.pos, cfg.box, datasets,
    {
      min: cfg.xMin, max: cfg.xMax,
      afterBuildTicks: s => { s.ticks = cfg.xTicks.map(value => ({ value })); },
      ticks: { padding: 1, maxRotation: 0, color: '#444', font: axisLabelFont, callback: v => v < 0 ? '- ' + (-v) : '' + v },
      title: { display: true, text: 'log2(FoldChange)', font: { family: SERIF, size: 8 }, color: '#333', padding: 0 }
    },
    {
      min: cfg.yMin, max: cfg.yMax,
      afterBuildTicks: s => { s.ticks = cfg.yTicks.map(value => ({ value })); },
      ticks: { padding: 1, color: '#444', font: axisLabelFont, callback: v => v.toFixed(1) },
      title: { display: true, text: '-log10(FDR)', font: { family: SERIF, size: 8 }, color: '#333', padding: { top: 5, bottom: 0 } }
    },
    (chart, ctx) => {
      const xs = chart.scales.x, ys = chart.scales.y;
      const anchors = pairs(cfg.geneValues);
      ctx.font = '8px ' + SERIF;
      ctx.textAlign = 'center';
      ctx.textBaseline = 'middle';
      cfg.genes.forEach((name, i) => {
        const spot = cfg.geneSpots[i], a = anchors[i];
        const px = xs.getPixelForValue(a.x) + cfg.pos.x, py = ys.getPixelForValue(a.y) + cfg.pos.y;
        ctx.strokeStyle = '#aaa';
        ctx.lineWidth = 0.5;
        ctx.beginPath();
        ctx.moveTo(px, py);
        ctx.lineTo(spot[0], spot[1]);
        ctx.stroke();
        const w = ctx.measureText(name).width + 2;
        ctx.fillStyle = 'rgba(255,255,255,0.8)';
        ctx.strokeStyle = '#999';
        ctx.lineWidth = 0.7;
        ctx.beginPath();
        ctx.roundRect(spot[0] - w / 2, spot[1] - 6.2, w, 12.4, 1.5);
        ctx.fill();
        ctx.stroke();
        ctx.fillStyle = a.x < 0 ? '#2d4f9e' : '#e8323c';
        ctx.fillText(name, spot[0], spot[1]);
      });
      const lx = cfg.legendX;
      ctx.textAlign = 'left';
      ctx.fillStyle = '#222';
      ctx.font = '8px ' + SERIF;
      ctx.fillText('Regulated', lx, 289);
      ctx.fillText('Down', lx + 8, 300.7);
      ctx.fillText('Up', lx + 8, 313);
      ctx.fillStyle = '#1d3f94';
      Chart.helpers.drawPoint(ctx, { pointStyle: 'triangle', rotation: 180, radius: 3.6, borderWidth: 0 }, lx + 3, 300.5);
      ctx.fillStyle = '#dc0a14';
      Chart.helpers.drawPoint(ctx, { pointStyle: 'triangle', rotation: 0, radius: 3.6, borderWidth: 0 }, lx + 3, 313);
    });
}

const halfSteps = n => Array.from({ length: n }, (_, i) => i * 0.5);

addVolcano({
  pos: { x: 0, y: 276, w: 238, h: 186 }, box: { l: 24.7, t: 284.3, r: 199.3, b: 441 },
  xMin: -4.81, xMax: 4.29, yMin: -0.22, yMax: 5.46,
  xTicks: [-4, -3, -2, -1, 0, 1, 2, 3, 4], yTicks: halfSteps(11),
  up: primaryUp, upCore: primaryUpCore, down: primaryDown, downCore: primaryDownCore, background: primaryBackground,
  coreTop: primaryCoreTop, coreBottom: primaryCoreBottom,
  genes: primaryGenes, geneValues: primaryGeneValues,
  geneSpots: [[57.7, 309], [51.7, 328.7], [41, 347], [44.7, 363], [45.7, 379], [187.7, 305.3], [196.3, 332.7], [211, 347.7], [202, 366.7], [196.7, 387.3]],
  legendX: 205
});
addVolcano({
  pos: { x: 228, y: 276, w: 254, h: 186 }, box: { l: 253.3, t: 284.3, r: 435.7, b: 441 },
  xMin: -6.06, xMax: 5.34, yMin: -0.22, yMax: 5.62,
  xTicks: [-6, -5, -4, -3, -2, -1, 0, 1, 2, 3, 4, 5], yTicks: halfSteps(12),
  up: depositUp, upCore: depositUpCore, down: depositDown, downCore: depositDownCore, background: depositBackground,
  genes: depositGenes, geneValues: depositGeneValues,
  geneSpots: [[270.3, 323], [261.7, 345], [270.7, 367], [268.3, 383], [292.7, 402.3], [420.7, 316], [424.3, 336.7], [421, 351.7], [422.3, 365.3], [417.7, 380.7]],
  legendX: 442
});
addVolcano({
  pos: { x: 464, y: 276, w: 236, h: 186 }, box: { l: 488.3, t: 284.3, r: 662, b: 441 },
  xMin: -6.81, xMax: 6.05, yMin: -0.24, yMax: 6.14,
  xTicks: [-6, -5, -4, -3, -2, -1, 0, 1, 2, 3, 4, 5, 6], yTicks: halfSteps(13),
  up: metastasisUp, upCore: metastasisUpCore, down: metastasisDown, downCore: metastasisDownCore, background: metastasisBackground,
  genes: metastasisGenes, geneValues: metastasisGeneValues,
  geneSpots: [[638.3, 304.7], [655.3, 328], [667.3, 345.3], [657.3, 361.7], [655.7, 383], [506.3, 330.3], [498.3, 349.3], [494, 380], [500, 396.7], [526, 388]],
  legendX: 667.7
});

// ---- panels F, G, H ----
function addEnrichment(cfg) {
  const tickFont = { family: SERIF, size: 5.5 };
  const f = cfg.frame;

  // running score
  addPlot({ x: cfg.scoreLeft, y: f.scoreTop - 3, w: f.r + 6 - cfg.scoreLeft, h: f.rugTop - f.scoreTop + 3 }, { l: f.l, t: f.scoreTop, r: f.r, b: f.rugTop },
    cfg.sets.map(s => ({ data: pairs(s.curve), showLine: true, borderColor: s.color, borderWidth: 1.2, pointRadius: 0 })),
    { min: cfg.xMin, max: cfg.xMax, display: true, ticks: { display: false }, grid: { display: false } },
    {
      min: cfg.esMin, max: cfg.esMax,
      afterBuildTicks: s => { s.ticks = [-0.4, -0.2, 0, 0.2, 0.4, 0.6].map(value => ({ value })); },
      ticks: { padding: 1, color: '#333', font: tickFont, callback: v => v.toFixed(1) },
      grid: { drawOnChartArea: true, drawTicks: true, tickLength: 2, tickColor: '#555', color: c => c.tick.value === 0 ? '#d8d8d8' : 'rgba(0,0,0,0)' },
      title: { display: true, text: 'Enrichment score', font: { family: SERIF, size: 5 }, color: '#333', padding: { top: 1, bottom: 0 } }
    });

  // hit ticks per gene set
  const rowHeight = (f.metricTop - f.rugTop) / 5;
  addPlot({ x: f.l - 2, y: f.rugTop - 2, w: f.r - f.l + 4, h: f.metricTop - f.rugTop + 4 }, { l: f.l, t: f.rugTop, r: f.r, b: f.metricTop },
    cfg.sets.map((s, i) => ({
      data: s.hits.map(x => ({ x, y: i + 0.5 })),
      pointStyle: 'line', rotation: 90, pointRadius: rowHeight / 2, pointBorderColor: s.color, pointBorderWidth: 1.2
    })),
    { min: cfg.xMin, max: cfg.xMax, ticks: { display: false }, grid: { display: false } },
    {
      min: 0, max: 5, reverse: true,
      afterBuildTicks: s => { s.ticks = [0, 1, 2, 3, 4, 5].map(value => ({ value })); },
      ticks: { display: false },
      grid: { drawTicks: false, drawOnChartArea: true, color: '#555', lineWidth: 1 }
    },
    (chart, ctx) => {
      ctx.font = '4.95px ' + SERIF;
      ctx.textAlign = 'left';
      ctx.textBaseline = 'middle';
      cfg.sets.forEach((s, i) => {
        const y = f.rugTop + rowHeight * (i + 0.5);
        const w = ctx.measureText(s.name).width;
        ctx.fillStyle = 'rgba(255,255,255,0.62)';
        ctx.fillRect(f.l + 4, y - rowHeight / 2 + 0.6, w + 1, rowHeight - 1.2);
        ctx.fillStyle = '#222';
        ctx.fillText(s.name, f.l + 4.5, y);
      });
    }, '#666', 1.2);

  // ranked metric
  addPlot({ x: cfg.metricLeft, y: f.metricTop - 2, w: f.r + 6 - cfg.metricLeft, h: 690 - f.metricTop + 2 }, { l: f.l, t: f.metricTop, r: f.r, b: f.bottom },
    [{ data: pairs(cfg.metric), showLine: true, borderColor: '#c3d0d1', borderWidth: 0.5, pointRadius: 0, backgroundColor: '#c3d0d1', fill: 'origin' }],
    {
      min: cfg.xMin, max: cfg.xMax,
      afterBuildTicks: s => { s.ticks = [0, 200, 400, 600, 800, 1000, 1200, 1400].map(value => ({ value })); },
      ticks: { padding: 1, maxRotation: 0, color: '#333', font: tickFont, callback: v => v.toLocaleString('en-US') },
      title: { display: true, text: 'Rank in Ordered DataSet', font: { family: SERIF, size: 5.2 }, color: '#333', padding: 1 }
    },
    {
      min: cfg.metricMin, max: cfg.metricMax,
      afterBuildTicks: s => { s.ticks = [-4, -2, 0, 2, 4].map(value => ({ value })); },
      ticks: { padding: 1, color: '#333', font: tickFont, callback: v => v < 0 ? '-' + (-v) : '' + v },
      title: { display: true, text: 'Ranked list metric', font: { family: SERIF, size: 5 }, color: '#333', padding: { top: 1, bottom: 0 } }
    },
    (chart, ctx) => {
      ctx.font = '5px ' + SERIF;
      ctx.fillStyle = '#333';
      ctx.textBaseline = 'middle';
      ctx.textAlign = 'left';
      ctx.fillText('left', f.l + 4, f.metricTop + 5.5);
      ctx.textAlign = 'right';
      ctx.fillText('right', f.r - 2, f.bottom - 7);
    });
}

addEnrichment({
  frame: { l: 23.3, r: 222.7, scoreTop: 501, rugTop: 567.7, metricTop: 601.7, bottom: 669 },
  scoreLeft: 3, metricLeft: 5,
  xMin: -28, xMax: 1497, esMin: -0.503, esMax: 0.749, metricMin: -5.9, metricMax: 6.15,
  metric: metricShort,
  sets: [
    { name: setNamesF[0], curve: g2mCurve, hits: g2mHits, color: RED },
    { name: setNamesF[1], curve: hemeCurveF, hits: hemeHits, color: TEAL },
    { name: setNamesF[2], curve: myogCurveF, hits: myogHits, color: GRASS },
    { name: setNamesF[3], curve: krasCurve, hits: krasHits, color: ROYAL },
    { name: setNamesF[4], curve: emtCurveF, hits: emtHits, color: PINK }
  ]
});
addEnrichment({
  frame: { l: 248.3, r: 443.3, scoreTop: 501, rugTop: 567.7, metricTop: 601.7, bottom: 669 },
  scoreLeft: 230, metricLeft: 230,
  xMin: -27, xMax: 1502, esMin: -0.5, esMax: 0.685, metricMin: -5.9, metricMax: 6.15,
  metric: metricShort,
  sets: [
    { name: setNamesG[0], curve: hemeCurveG, hits: hemeHits, color: RED },
    { name: setNamesG[1], curve: myogCurveG, hits: myogHits, color: TEAL },
    { name: setNamesG[2], curve: mycCurve, hits: mycHits, color: GRASS },
    { name: setNamesG[3], curve: g2mCurve, hits: g2mHits, color: ROYAL },
    { name: setNamesG[4], curve: emtCurveG, hits: emtHits, color: PINK }
  ]
});
addEnrichment({
  frame: { l: 475.7, r: 679, scoreTop: 501.7, rugTop: 567.3, metricTop: 601.7, bottom: 669 },
  scoreLeft: 459, metricLeft: 459,
  xMin: -26, xMax: 1600, esMin: -0.58, esMax: 0.706, metricMin: -5.9, metricMax: 6.15,
  metric: metricLong,
  sets: [
    { name: setNamesH[0], curve: xenoCurve, hits: xenoHits, color: RED },
    { name: setNamesH[1], curve: oxphosCurve, hits: oxphosHits, color: TEAL },
    { name: setNamesH[2], curve: fattyCurve, hits: fattyHits, color: GRASS },
    { name: setNamesH[3], curve: uvCurve, hits: uvHits, color: ROYAL },
    { name: setNamesH[4], curve: emtCurveH, hits: emtHitsH, color: PINK }
  ]
});

// ---- panels I, J: circles in units of one radius ----
const vennRadius = 71;
const vennCircles = [{ x: -0.65, y: 0 }, { x: 0.65, y: 0 }, { x: 0, y: 1.08 }];
const vennFills = ['rgba(235,40,50,0.5)', 'rgba(0,28,120,0.52)', 'rgba(35,206,93,0.45)'];

function addVenn(cfg) {
  const pos = cfg.pos;
  const canvas = document.createElement('canvas');
  canvas.width = pos.w;
  canvas.height = pos.h;
  canvas.style.left = pos.x + 'px';
  canvas.style.top = pos.y + 'px';
  document.body.appendChild(canvas);
  const hidden = { type: 'linear', display: false };
  new Chart(canvas, {
    type: 'scatter',
    data: {
      datasets: [{
        data: vennCircles, pointRadius: vennRadius, backgroundColor: vennFills, borderWidth: 0, clip: false
      }]
    },
    options: {
      responsive: false,
      animation: false,
      layout: { autoPadding: false, padding: 0 },
      plugins: { legend: { display: false }, tooltip: { enabled: false } },
      scales: {
        x: { ...hidden, min: (pos.x - cfg.cx) / vennRadius, max: (pos.x + pos.w - cfg.cx) / vennRadius },
        y: { ...hidden, reverse: true, min: (pos.y - cfg.cy) / vennRadius, max: (pos.y + pos.h - cfg.cy) / vennRadius }
      }
    },
    plugins: [{
      id: 'vennText',
      afterDraw(chart) {
        const ctx = chart.ctx, xs = chart.scales.x, ys = chart.scales.y;
        ctx.save();
        ctx.textAlign = 'center';
        ctx.textBaseline = 'middle';
        ctx.fillStyle = '#111';
        ctx.font = 'bold 6.8px ' + SANS;
        cfg.counts.forEach((n, i) => {
          const [u, v] = cfg.regions[i];
          ctx.fillText(n, xs.getPixelForValue(u), ys.getPixelForValue(v));
        });
        ctx.font = 'bold 8.6px ' + SANS;
        vennSets.forEach((name, i) => {
          ctx.fillText(name, cfg.names[i][0] - pos.x, cfg.names[i][1] - pos.y);
        });
        ctx.restore();
      }
    }]
  });
}

addVenn({
  pos: { x: 0, y: 690, w: 350, h: 268 }, cx: 197, cy: 798.3, counts: upCounts,
  regions: [[-1.07, -0.3], [-0.04, -0.3], [0.92, -0.3], [-0.03, 0.33], [-0.65, 0.7], [0.6, 0.7], [-0.07, 1.63]],
  names: [[95.7, 722], [284, 721.7], [197.7, 953.3]]
});
addVenn({
  pos: { x: 350, y: 690, w: 350, h: 268 }, cx: 517.85, cy: 796.7, counts: downCounts,
  regions: [[-1.05, -0.27], [-0.03, -0.27], [0.94, -0.27], [-0.03, 0.35], [-0.64, 0.73], [0.61, 0.73], [-0.04, 1.61]],
  names: [[416.3, 722], [602.3, 721.7], [518.7, 954.3]]
});
</script>
</body>
</html>
